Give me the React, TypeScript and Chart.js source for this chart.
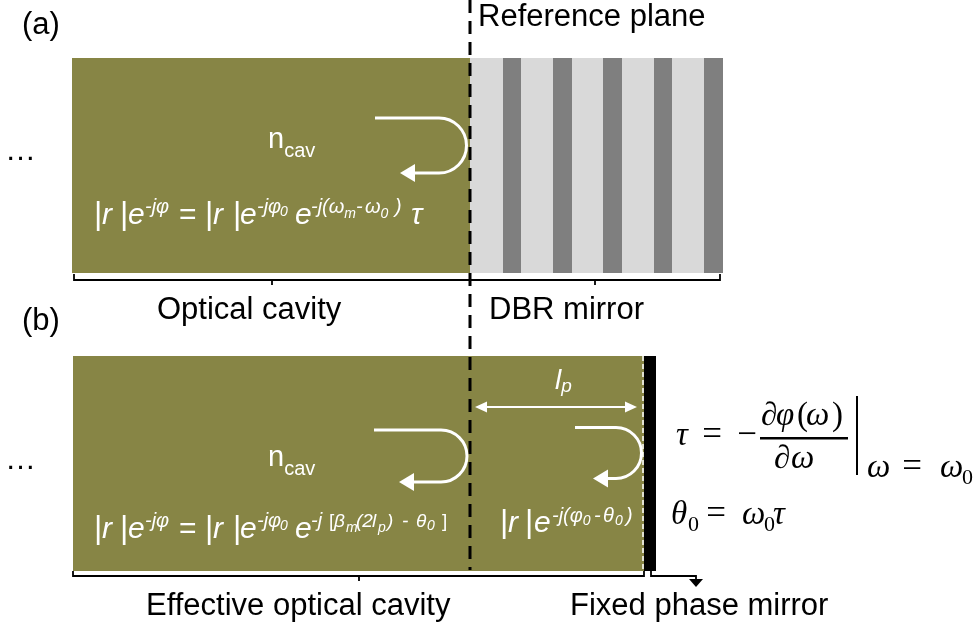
import React, { useEffect, useRef } from "react";
import { Chart, registerables } from "chart.js";
Chart.register(...registerables);

const W = 976;
const H = 630;
const SANS = '"Liberation Sans", Arial, sans-serif';
const SERIF = '"Liberation Serif", "Times New Roman", serif';

const OLIVE = "#878545";
const LIGHT = "#d9d9d9";
const DARK = "#7f7f7f";

// ---- diagram content (axis units) ----
const cavityA = [72, 470];
const rowA = [58, 273];
const dbrSpan = [470, 723];
const dbrHighIndexLayers = [
  [503, 521],
  [553, 572],
  [603, 622],
  [654, 672],
  [704, 723],
];
const cavityB = [73, 644];
const rowB = [356, 571];
const fixedMirror = [644, 656];
const referencePlane = [
  { x: 470, y: 0 },
  { x: 470, y: 570 },
];
const phaseMirrorEdge = [
  { x: 643, y: 356 },
  { x: 643, y: 571 },
];
const braceCavityA = [
  { x: 74, y: 274 },
  { x: 74, y: 280 },
  { x: 272, y: 280 },
  { x: 272, y: 285 },
  { x: 272, y: 280 },
  { x: 470, y: 280 },
];
const braceDBR = [
  { x: 471, y: 280 },
  { x: 595, y: 280 },
  { x: 595, y: 285 },
  { x: 595, y: 280 },
  { x: 720, y: 280 },
  { x: 720, y: 274 },
];
const braceCavityB = [
  { x: 73, y: 571 },
  { x: 73, y: 576 },
  { x: 359, y: 576 },
  { x: 359, y: 581 },
  { x: 359, y: 576 },
  { x: 644, y: 576 },
  { x: 644, y: 571 },
];
const mirrorPointer = [
  { x: 651, y: 571 },
  { x: 651, y: 576 },
  { x: 696, y: 576 },
  { x: 696, y: 580 },
];

const labels = {
  a: "(a)",
  b: "(b)",
  ref: "Reference plane",
  cavity: "Optical cavity",
  dbr: "DBR mirror",
  effCavity: "Effective optical cavity",
  fixed: "Fixed phase mirror",
  dots: "\u2026",
};

type Run = { t: string; s: number; i?: boolean; dy?: number; f?: string; x?: number; c?: number };

const fontOf = (r: Run) => `${r.i ? "italic " : ""}${r.s}px ${r.f || SANS}`;

function drawRuns(
  ctx: CanvasRenderingContext2D,
  X: (v: number) => number,
  Y: (v: number) => number,
  x: number,
  y: number,
  runs: Run[],
  color: string
) {
  let cx = X(x);
  ctx.fillStyle = color;
  ctx.textAlign = "left";
  ctx.textBaseline = "alphabetic";
  runs.forEach((r) => {
    ctx.font = fontOf(r);
    const w = ctx.measureText(r.t).width;
    if (r.x !== undefined) cx = X(r.x);
    if (r.c !== undefined) cx = X(r.c) - w / 2;
    ctx.fillText(r.t, cx, Y(y) + (r.dy || 0));
    cx += w;
  });
}

const S = 30;
const B = 32;
const P = 20;
const Q = 14;
const lhs: Run[] = [
  { t: "|", s: B, x: 94 },
  { t: "r", s: S, i: true, x: 102 },
  { t: "|", s: B, x: 120 },
  { t: "e", s: S, i: true, x: 128 },
  { t: "-j\u03c6", s: P, i: true, dy: -11, x: 145 },
  { t: "=", s: S, x: 179 },
  { t: "|", s: B, x: 205 },
  { t: "r", s: S, i: true, x: 213 },
  { t: "|", s: B, x: 233 },
  { t: "e", s: S, i: true, x: 240 },
  { t: "-j\u03c6", s: P, i: true, dy: -11, x: 257 },
  { t: "0", s: Q, i: true, dy: -8, x: 280 },
];
const eqA: Run[] = [
  ...lhs,
  { t: "e", s: S, i: true, x: 295 },
  { t: "-j(\u03c9", s: P, i: true, dy: -11, x: 311 },
  { t: "m", s: Q, i: true, dy: -6 },
  { t: "- ", s: P, i: true, dy: -11 },
  { t: "\u03c9", s: P, i: true, dy: -11, x: 365 },
  { t: "0", s: Q, i: true, dy: -6 },
  { t: ")", s: P, i: true, dy: -11, x: 395 },
  { t: "\u03c4", s: S, i: true, x: 411 },
];
const eqB: Run[] = [
  ...lhs,
  { t: "e", s: S, i: true, x: 295 },
  { t: "-j", s: P, i: true, dy: -11, x: 311 },
  { t: "[", s: 19, dy: -11, x: 329 },
  { t: "\u03b2", s: 19, i: true, dy: -11, x: 334 },
  { t: "m", s: 14, i: true, dy: -6, x: 346 },
  { t: "(2", s: 19, i: true, dy: -11, x: 356 },
  { t: "l", s: 19, i: true, dy: -11, x: 372 },
  { t: "p", s: 14, i: true, dy: -6, x: 378 },
  { t: ")", s: 19, i: true, dy: -11, x: 387 },
  { t: "-", s: 19, i: true, dy: -11, x: 402 },
  { t: "\u03b8", s: 19, i: true, dy: -11, x: 416 },
  { t: "0", s: 14, i: true, dy: -8, x: 427 },
  { t: "]", s: 19, dy: -11, x: 442 },
];
const eqC: Run[] = [
  { t: "|", s: B, x: 500 },
  { t: "r", s: S, i: true, x: 508 },
  { t: "|", s: B, x: 525 },
  { t: "e", s: S, i: true, x: 534 },
  { t: "-j(\u03c6", s: 20, i: true, dy: -10, x: 552 },
  { t: "0", s: 14, i: true, dy: -7 },
  { t: "-", s: 20, i: true, dy: -10, x: 594 },
  { t: "\u03b8", s: 20, i: true, dy: -10, x: 603 },
  { t: "0", s: 14, i: true, dy: -7, x: 615 },
  { t: ")", s: 20, i: true, dy: -10, x: 626 },
];
const nCav: Run[] = [
  { t: "n", s: 29 },
  { t: "cav", s: 20, dy: 9 },
];
const lp: Run[] = [
  { t: "l", s: 28, i: true },
  { t: "p", s: 19, i: true, dy: 3 },
];

const M = 33;
const mi = (t: string, x: number, dy = 0, s = M): Run => ({ t, s, i: true, dy, f: SERIF, x });
const mu = (t: string, x: number, dy = 0, s = M): Run => ({ t, s, dy, f: SERIF, x });
const mc = (t: string, c: number, s = 35): Run => ({ t, s, f: SERIF, c });

const mathTau: Run[] = [mi("\u03c4", 676), mc("=", 712), mc("\u2212", 747)];
const mathNum: Run[] = [mi("\u2202", 761), mi("\u03c6", 776), mu("(", 797), mi("\u03c9", 806), mu(")", 832)];
const mathDen: Run[] = [mi("\u2202", 774), mi("\u03c9", 791)];
const mathAt: Run[] = [mi("\u03c9", 867), mc("=", 912), mi("\u03c9", 940), mu("0", 962, 7, 22)];
const mathTheta: Run[] = [
  mi("\u03b8", 671),
  mu("0", 688, 7, 22),
  mc("=", 716),
  mi("\u03c9", 742),
  mu("0", 764, 7, 22),
  mi("\u03c4", 773),
];

const diagramPlugin = {
  id: "diagram",
  beforeDatasetsDraw(chart: any) {
    const { ctx, scales } = chart;
    const X = (v: number) => scales.x.getPixelForValue(v);
    const Y = (v: number) => scales.y.getPixelForValue(v);
    const rect = (x0: number, x1: number, y0: number, y1: number, c: string) => {
      ctx.fillStyle = c;
      ctx.fillRect(X(x0), Y(y0), X(x1) - X(x0), Y(y1) - Y(y0));
    };
    ctx.save();
    rect(cavityA[0], cavityA[1], rowA[0], rowA[1], OLIVE);
    rect(dbrSpan[0], dbrSpan[1], rowA[0], rowA[1], LIGHT);
    dbrHighIndexLayers.forEach((l) => rect(l[0], l[1], rowA[0], rowA[1], DARK));
    rect(cavityB[0], cavityB[1], rowB[0], rowB[1], OLIVE);
    rect(fixedMirror[0], fixedMirror[1], rowB[0], rowB[1], "#000");
    ctx.restore();
  },
  afterDatasetsDraw(chart: any) {
    const { ctx, scales } = chart;
    const X = (v: number) => scales.x.getPixelForValue(v);
    const Y = (v: number) => scales.y.getPixelForValue(v);
    ctx.save();

    const tri = (p: number[][], c: string) => {
      ctx.fillStyle = c;
      ctx.beginPath();
      ctx.moveTo(X(p[0][0]), Y(p[0][1]));
      ctx.lineTo(X(p[1][0]), Y(p[1][1]));
      ctx.lineTo(X(p[2][0]), Y(p[2][1]));
      ctx.closePath();
      ctx.fill();
    };

    const uturn = (xs: number, yt: number, cx: number, r: number, tip: number) => {
      const yb = yt + 2 * r;
      ctx.strokeStyle = "#fff";
      ctx.lineWidth = 3;
      ctx.beginPath();
      ctx.moveTo(X(xs), Y(yt));
      ctx.lineTo(X(cx), Y(yt));
      ctx.arc(X(cx), Y(yt + r), Y(yt + r) - Y(yt), -Math.PI / 2, Math.PI / 2, false);
      ctx.lineTo(X(tip + 12), Y(yb));
      ctx.stroke();
      tri([[tip, yb], [tip + 15, yb - 9], [tip + 15, yb + 9]], "#fff");
    };
    uturn(375, 118, 439, 27.5, 400);
    uturn(374, 430, 441, 26, 399);
    uturn(575, 427.5, 616, 25.5, 593);

    // l_p double arrow
    ctx.strokeStyle = "#fff";
    ctx.lineWidth = 2;
    ctx.beginPath();
    ctx.moveTo(X(484), Y(407));
    ctx.lineTo(X(628), Y(407));
    ctx.stroke();
    tri([[475, 407], [487, 401.5], [487, 412.5]], "#fff");
    tri([[637, 407], [625, 401.5], [625, 412.5]], "#fff");

    // fixed phase mirror pointer head
    tri([[689, 579], [703, 579], [696, 587]], "#000");

    // black labels
    ctx.fillStyle = "#000";
    ctx.textBaseline = "alphabetic";
    ctx.textAlign = "left";
    ctx.font = `31px ${SANS}`;
    ctx.fillText(labels.a, X(22), Y(34));
    ctx.fillText(labels.b, X(22), Y(330));
    ctx.fillText(labels.ref, X(478), Y(26));
    ctx.fillText(labels.cavity, X(157), Y(319));
    ctx.fillText(labels.dbr, X(489), Y(319));
    ctx.fillText(labels.effCavity, X(146), Y(615));
    ctx.fillText(labels.fixed, X(570), Y(615));
    ctx.fillText(labels.dots, X(5), Y(160));
    ctx.fillText(labels.dots, X(5), Y(469));

    // white labels
    drawRuns(ctx, X, Y, 268, 148, nCav, "#fff");
    drawRuns(ctx, X, Y, 268, 466, nCav, "#fff");
    drawRuns(ctx, X, Y, 94, 224, eqA, "#fff");
    drawRuns(ctx, X, Y, 94, 538, eqB, "#fff");
    drawRuns(ctx, X, Y, 500, 532, eqC, "#fff");
    drawRuns(ctx, X, Y, 555, 389, lp, "#fff");

    // math (black, serif)
    drawRuns(ctx, X, Y, 676, 445, mathTau, "#000");
    drawRuns(ctx, X, Y, 761, 425, mathNum, "#000");
    ctx.fillStyle = "#000";
    ctx.fillRect(X(760), Y(437), X(848) - X(760), 2.5);
    drawRuns(ctx, X, Y, 774, 468, mathDen, "#000");
    ctx.fillStyle = "#000";
    ctx.fillRect(X(856), Y(396), 2, Y(475) - Y(396));
    drawRuns(ctx, X, Y, 867, 477, mathAt, "#000");
    drawRuns(ctx, X, Y, 671, 524, mathTheta, "#000");

    ctx.restore();
  },
};

const lineDs = (data: any[], color: string, width: number, dash: number[] = []) => ({
  data,
  showLine: true,
  borderColor: color,
  borderWidth: width,
  borderDash: dash,
  pointRadius: 0,
  tension: 0,
  fill: false,
  clip: false,
});

export default function App() {
  const ref = useRef<HTMLCanvasElement | null>(null);
  useEffect(() => {
    if (!ref.current) return;
    const chart = new Chart(ref.current, {
      type: "scatter",
      data: {
        datasets: [
          lineDs(braceCavityA, "#000", 1.8),
          lineDs(braceDBR, "#000", 1.8),
          lineDs(braceCavityB, "#000", 1.8),
          lineDs(mirrorPointer, "#000", 1.8),
          lineDs(phaseMirrorEdge, "#fff", 1.5, [5, 3]),
          lineDs(referencePlane, "#000", 3, [13, 8]),
        ] as any,
      },
      options: {
        animation: false,
        responsive: false,
        events: [],
        layout: { padding: 0 },
        plugins: { legend: { display: false }, tooltip: { enabled: false } },
        scales: {
          x: { type: "linear", min: 0, max: W, display: false },
          y: { type: "linear", min: 0, max: H, reverse: true, display: false },
        },
      },
      plugins: [diagramPlugin],
    });
    return () => chart.destroy();
  }, []);
  return (
    <div style={{ position: "absolute", left: 0, top: 0, width: W, height: H, background: "#fff" }}>
      <canvas ref={ref} width={W} height={H} style={{ display: "block", width: W, height: H }} />
    </div>
  );
}
